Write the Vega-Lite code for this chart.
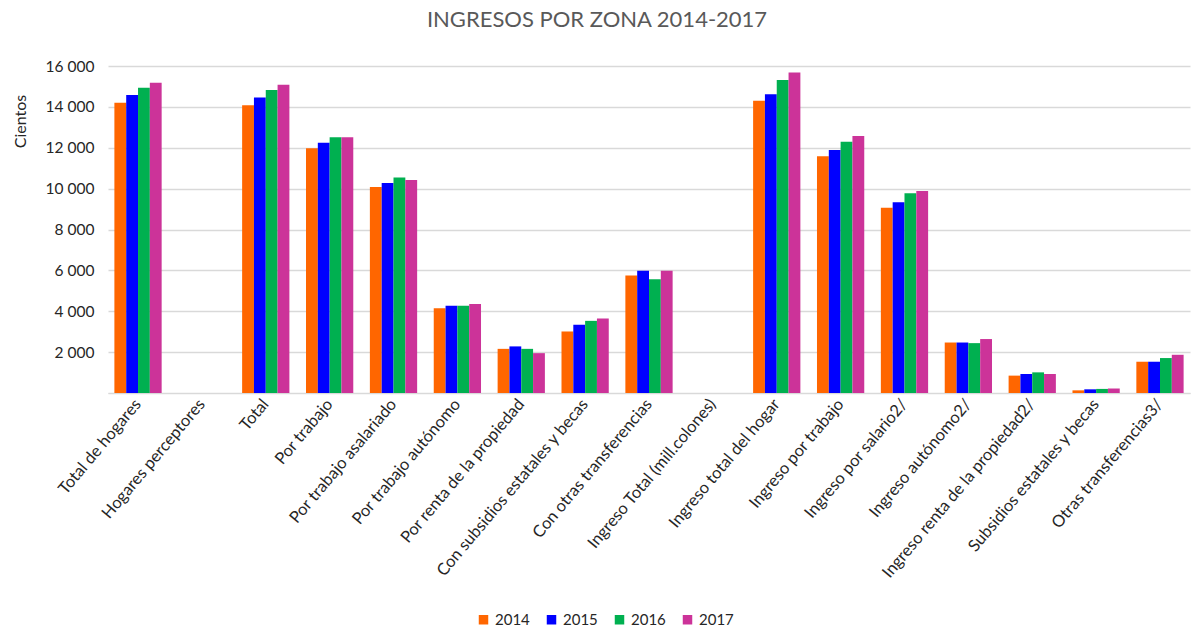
{
  "$schema": "https://vega.github.io/schema/vega-lite/v6.json",
  "autosize": {"type": "none"},
  "width": 1082,
  "height": 327,
  "padding": {"left": 108, "top": 66, "right": 3, "bottom": 240},
  "background": "white",
  "config": {
    "font": "Lato",
    "view": {"stroke": null},
    "axis": {"labelFont": "Lato", "titleFont": "Lato"},
    "legend": {"labelFont": "Lato"}
  },
  "title": {
    "text": "INGRESOS POR ZONA 2014-2017",
    "fontSize": 22,
    "fontWeight": "normal",
    "color": "#595959",
    "font": "Lato",
    "anchor": "middle",
    "dx": -52,
    "offset": 27
  },
  "data": {
    "values": [
      {"cat": "Total de hogares", "year": "2014", "value": 14200},
      {"cat": "Total de hogares", "year": "2015", "value": 14580},
      {"cat": "Total de hogares", "year": "2016", "value": 14930},
      {"cat": "Total de hogares", "year": "2017", "value": 15180},
      {"cat": "Total", "year": "2014", "value": 14080},
      {"cat": "Total", "year": "2015", "value": 14460},
      {"cat": "Total", "year": "2016", "value": 14820},
      {"cat": "Total", "year": "2017", "value": 15080},
      {"cat": "Por trabajo", "year": "2014", "value": 11980},
      {"cat": "Por trabajo", "year": "2015", "value": 12250},
      {"cat": "Por trabajo", "year": "2016", "value": 12510},
      {"cat": "Por trabajo", "year": "2017", "value": 12510},
      {"cat": "Por trabajo asalariado", "year": "2014", "value": 10080},
      {"cat": "Por trabajo asalariado", "year": "2015", "value": 10280},
      {"cat": "Por trabajo asalariado", "year": "2016", "value": 10550},
      {"cat": "Por trabajo asalariado", "year": "2017", "value": 10420},
      {"cat": "Por trabajo autónomo", "year": "2014", "value": 4150},
      {"cat": "Por trabajo autónomo", "year": "2015", "value": 4270},
      {"cat": "Por trabajo autónomo", "year": "2016", "value": 4270},
      {"cat": "Por trabajo autónomo", "year": "2017", "value": 4350},
      {"cat": "Por renta de la propiedad", "year": "2014", "value": 2160},
      {"cat": "Por renta de la propiedad", "year": "2015", "value": 2280},
      {"cat": "Por renta de la propiedad", "year": "2016", "value": 2160},
      {"cat": "Por renta de la propiedad", "year": "2017", "value": 1950},
      {"cat": "Con subsidios estatales y becas", "year": "2014", "value": 3010},
      {"cat": "Con subsidios estatales y becas", "year": "2015", "value": 3340},
      {"cat": "Con subsidios estatales y becas", "year": "2016", "value": 3530},
      {"cat": "Con subsidios estatales y becas", "year": "2017", "value": 3650},
      {"cat": "Con otras transferencias", "year": "2014", "value": 5750},
      {"cat": "Con otras transferencias", "year": "2015", "value": 5980},
      {"cat": "Con otras transferencias", "year": "2016", "value": 5570},
      {"cat": "Con otras transferencias", "year": "2017", "value": 5980},
      {"cat": "Ingreso total del hogar", "year": "2014", "value": 14300},
      {"cat": "Ingreso total del hogar", "year": "2015", "value": 14620},
      {"cat": "Ingreso total del hogar", "year": "2016", "value": 15310},
      {"cat": "Ingreso total del hogar", "year": "2017", "value": 15680},
      {"cat": "Ingreso por trabajo", "year": "2014", "value": 11590},
      {"cat": "Ingreso por trabajo", "year": "2015", "value": 11890},
      {"cat": "Ingreso por trabajo", "year": "2016", "value": 12290},
      {"cat": "Ingreso por trabajo", "year": "2017", "value": 12570},
      {"cat": "Ingreso por salario2/", "year": "2014", "value": 9070},
      {"cat": "Ingreso por salario2/", "year": "2015", "value": 9330},
      {"cat": "Ingreso por salario2/", "year": "2016", "value": 9770},
      {"cat": "Ingreso por salario2/", "year": "2017", "value": 9880},
      {"cat": "Ingreso autónomo2/", "year": "2014", "value": 2470},
      {"cat": "Ingreso autónomo2/", "year": "2015", "value": 2470},
      {"cat": "Ingreso autónomo2/", "year": "2016", "value": 2440},
      {"cat": "Ingreso autónomo2/", "year": "2017", "value": 2640},
      {"cat": "Ingreso renta de la propiedad2/", "year": "2014", "value": 850},
      {"cat": "Ingreso renta de la propiedad2/", "year": "2015", "value": 930},
      {"cat": "Ingreso renta de la propiedad2/", "year": "2016", "value": 1010},
      {"cat": "Ingreso renta de la propiedad2/", "year": "2017", "value": 930},
      {"cat": "Subsidios estatales y becas", "year": "2014", "value": 130},
      {"cat": "Subsidios estatales y becas", "year": "2015", "value": 180},
      {"cat": "Subsidios estatales y becas", "year": "2016", "value": 200},
      {"cat": "Subsidios estatales y becas", "year": "2017", "value": 220},
      {"cat": "Otras transferencias3/", "year": "2014", "value": 1530},
      {"cat": "Otras transferencias3/", "year": "2015", "value": 1530},
      {"cat": "Otras transferencias3/", "year": "2016", "value": 1710},
      {"cat": "Otras transferencias3/", "year": "2017", "value": 1870}
    ]
  },
  "mark": {"type": "bar"},
  "encoding": {
    "x": {
      "field": "cat",
      "type": "nominal",
      "scale": {
        "domain": ["Total de hogares", "Hogares perceptores", "Total", "Por trabajo", "Por trabajo asalariado", "Por trabajo autónomo", "Por renta de la propiedad", "Con subsidios estatales y becas", "Con otras transferencias", "Ingreso Total (mill.colones)", "Ingreso total del hogar", "Ingreso por trabajo", "Ingreso por salario2/", "Ingreso autónomo2/", "Ingreso renta de la propiedad2/", "Subsidios estatales y becas", "Otras transferencias3/"],
        "paddingInner": 0.26,
        "paddingOuter": 0.1
      },
      "axis": {
        "title": null,
        "labelAngle": -50,
        "labelAlign": "right",
        "labelBaseline": "middle",
        "labelFontSize": 16.5,
        "labelColor": "#262626",
        "labelPadding": 8,
        "ticks": false,
        "domainColor": "#d9d9d9",
        "labelLimit": 400
      }
    },
    "xOffset": {"field": "year", "type": "nominal", "scale": {"paddingInner": 0}},
    "y": {
      "field": "value",
      "type": "quantitative",
      "scale": {"domain": [0, 16000], "nice": false},
      "axis": {
        "title": "Cientos",
        "titleFontSize": 16,
        "titleFontWeight": "normal",
        "titleColor": "#262626",
        "titleX": -88,
        "titleY": 55,
        "titleAlign": "center",
        "titleBaseline": "middle",
        "titleAngle": -90,
        "values": [0, 2000, 4000, 6000, 8000, 10000, 12000, 14000, 16000],
        "labelExpr": "datum.value == 0 ? '' : replace(format(datum.value, ','), ',', ' ')",
        "labelFontSize": 15.5,
        "labelColor": "#262626",
        "labelPadding": 14,
        "ticks": false,
        "domain": false,
        "gridColor": "#d9d9d9",
        "gridWidth": 1.5
      }
    },
    "color": {
      "field": "year",
      "type": "nominal",
      "scale": {"domain": ["2014", "2015", "2016", "2017"], "range": ["#FF6600", "#0000FF", "#00B050", "#CC3399"]},
      "legend": {
        "title": null,
        "orient": "none",
        "direction": "horizontal",
        "legendX": 368,
        "legendY": 546,
        "symbolType": "square",
        "symbolSize": 90,
        "symbolStrokeWidth": 0,
        "labelFontSize": 15,
        "labelColor": "#262626",
        "columnPadding": 14
      }
    }
  }
}
